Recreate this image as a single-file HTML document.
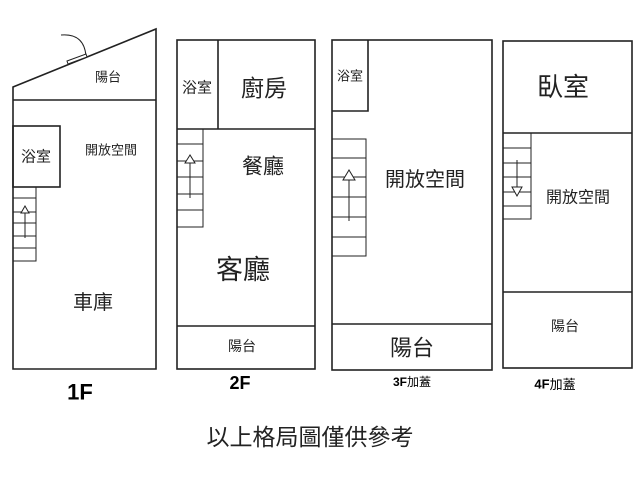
<!DOCTYPE html>
<html><head><meta charset="utf-8"><style>
html,body{margin:0;padding:0;background:#fff;}
svg{display:block;}
text{font-family:"Liberation Sans","Noto Sans CJK TC",sans-serif;fill:#222;text-anchor:middle;dominant-baseline:central;}
.b{font-weight:bold;fill:#000;}
</style></head><body>
<svg width="640" height="480" viewBox="0 0 640 480" xmlns="http://www.w3.org/2000/svg">
<g fill="none" stroke="#222" stroke-width="1.6">
<!-- 1F -->
<polygon points="13,87 156,29 156,369 13,369"/>
<line x1="13" y1="100" x2="156" y2="100"/>
<rect x="13" y="126" width="47" height="61"/>
<rect x="13" y="187" width="23" height="74" stroke-width="1"/>
<g stroke-width="1"><line x1="13" y1="198" x2="36" y2="198"/><line x1="13" y1="212" x2="36" y2="212"/><line x1="13" y1="223" x2="36" y2="223"/><line x1="13" y1="236" x2="36" y2="236"/><line x1="13" y1="248" x2="36" y2="248"/>
<line x1="25" y1="238" x2="25" y2="212"/><polygon points="25,206 21,213 29,213" fill="#fff"/>
<path d="M61,35 Q84,33 86,56" /><polygon points="67,61 86,54 87,57 68,64" fill="#fff"/></g>
<!-- 2F -->
<rect x="177" y="40" width="138" height="329"/>
<line x1="218" y1="40" x2="218" y2="129"/>
<line x1="177" y1="129" x2="315" y2="129"/>
<line x1="177" y1="326" x2="315" y2="326"/>
<rect x="177" y="129" width="26" height="98" stroke-width="1"/>
<g stroke-width="1"><line x1="177" y1="144" x2="203" y2="144"/><line x1="177" y1="161" x2="203" y2="161"/><line x1="177" y1="177" x2="203" y2="177"/><line x1="177" y1="194" x2="203" y2="194"/><line x1="177" y1="210" x2="203" y2="210"/>
<line x1="190" y1="198" x2="190" y2="162"/><polygon points="190,155 185,163 195,163" fill="#fff"/></g>
<!-- 3F -->
<rect x="332" y="40" width="160" height="330"/>
<polyline points="332,111 368,111 368,40"/>
<line x1="332" y1="324" x2="492" y2="324"/>
<rect x="332" y="139" width="34" height="117" stroke-width="1"/>
<g stroke-width="1"><line x1="332" y1="158" x2="366" y2="158"/><line x1="332" y1="177" x2="366" y2="177"/><line x1="332" y1="197" x2="366" y2="197"/><line x1="332" y1="217" x2="366" y2="217"/><line x1="332" y1="237" x2="366" y2="237"/>
<line x1="349" y1="221" x2="349" y2="180"/><polygon points="349,170 343,180 355,180" fill="#fff"/></g>
<!-- 4F -->
<rect x="503" y="41" width="129" height="327"/>
<line x1="503" y1="133" x2="632" y2="133"/>
<line x1="503" y1="292" x2="632" y2="292"/>
<rect x="503" y="133" width="28" height="86" stroke-width="1"/>
<g stroke-width="1"><line x1="503" y1="148" x2="531" y2="148"/><line x1="503" y1="163" x2="531" y2="163"/><line x1="503" y1="177" x2="531" y2="177"/><line x1="503" y1="192" x2="531" y2="192"/><line x1="503" y1="206" x2="531" y2="206"/>
<line x1="517" y1="160" x2="517" y2="188"/><polygon points="517,196 512,187 522,187" fill="#fff"/></g>
</g>
<text x="108" y="77" font-size="13">陽台</text>
<text x="36" y="157" font-size="15">浴室</text>
<text x="111" y="150" font-size="13">開放空間</text>
<text x="93" y="303" font-size="20">車庫</text>
<text x="80" y="392" font-size="22" class="b">1F</text>
<text x="197" y="88" font-size="15">浴室</text>
<text x="264" y="88" font-size="23">廚房</text>
<text x="263" y="167" font-size="21">餐廳</text>
<text x="243" y="270" font-size="27">客廳</text>
<text x="242" y="346" font-size="14">陽台</text>
<text x="240" y="383" font-size="18" class="b">2F</text>
<text x="350" y="76" font-size="13">浴室</text>
<text x="425" y="180" font-size="20">開放空間</text>
<text x="412" y="348" font-size="22">陽台</text>
<text x="412" y="382" font-size="12" class="b">3F<tspan font-weight="normal">加蓋</tspan></text>
<text x="563" y="87" font-size="26">臥室</text>
<text x="578" y="198" font-size="16">開放空間</text>
<text x="565" y="326" font-size="14">陽台</text>
<text x="555" y="384" font-size="13" class="b">4F<tspan font-weight="normal">加蓋</tspan></text>
<text x="310" y="437" font-size="23" fill="#333">以上格局圖僅供參考</text>
</svg>
</body></html>
